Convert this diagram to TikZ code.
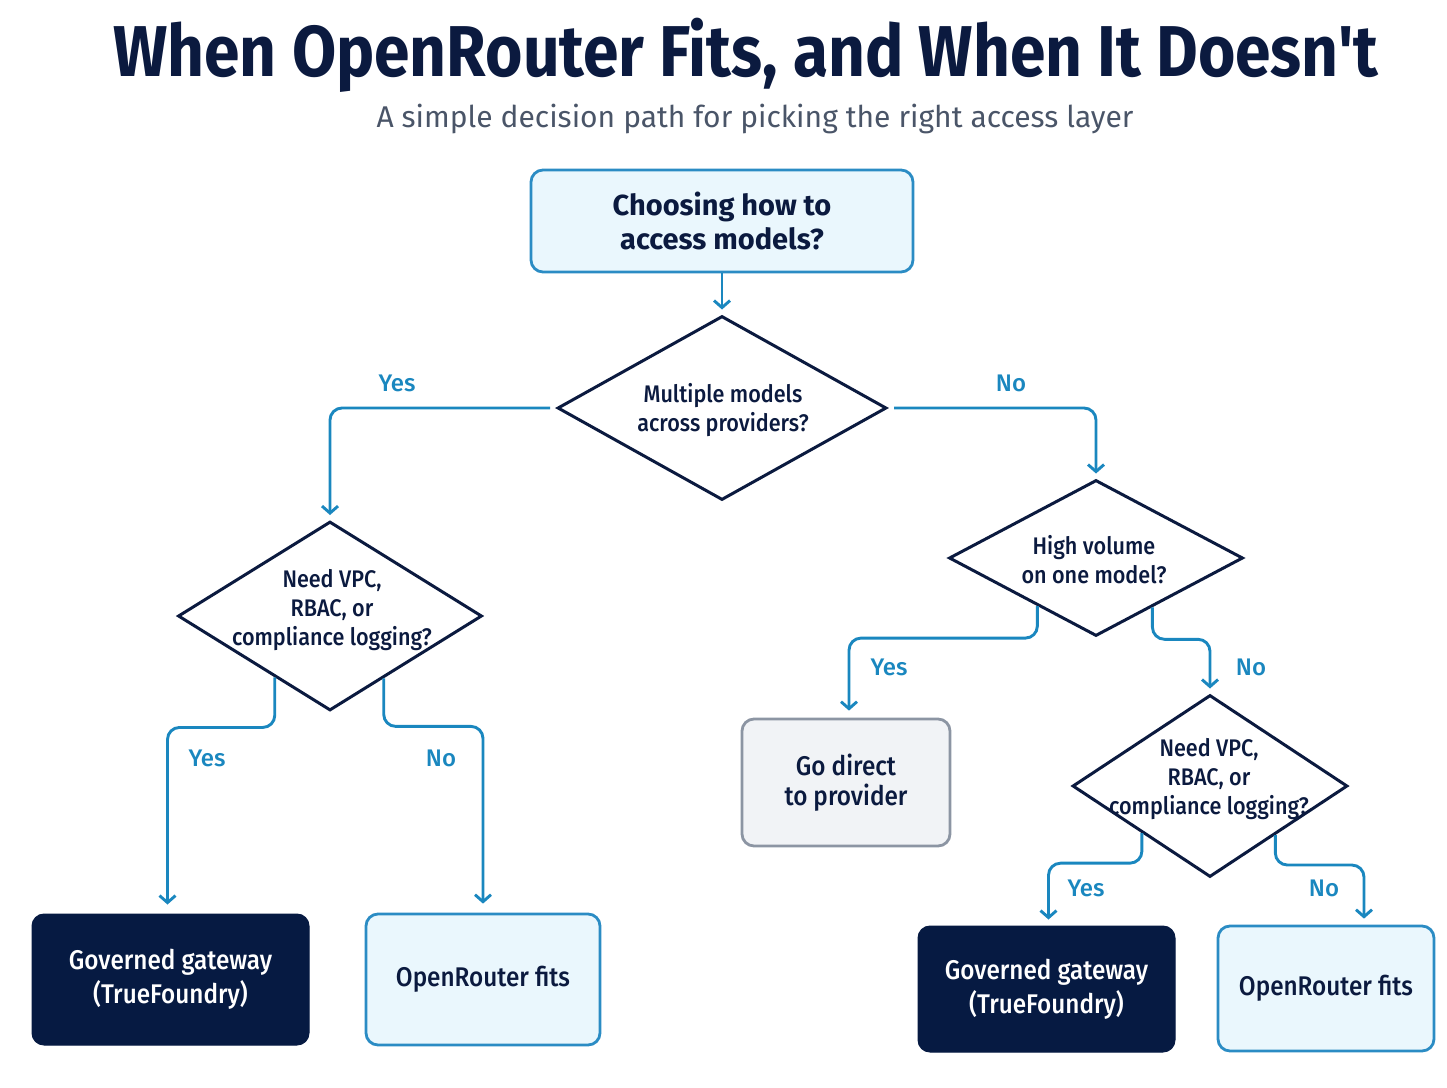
\documentclass[tikz,border=0pt]{standalone}
\usepackage{fontspec}
\setmainfont{Fira Sans}
\newfontfamily\medfont{Fira Sans Medium}
\newfontfamily\narrowfont{Fira Sans Medium}[FakeStretch=0.9]
\newfontfamily\titlefont{Fira Sans}[FakeStretch=0.89]
\usetikzlibrary{arrows.meta,shapes.geometric,calc}
\definecolor{Navy}{HTML}{0B1A3F}
\definecolor{DarkFill}{HTML}{061A42}
\definecolor{Flow}{HTML}{1A87BF}
\definecolor{StartFill}{HTML}{EAF7FD}
\definecolor{StartEdge}{HTML}{2B8CC4}
\definecolor{DirectFill}{HTML}{F1F3F6}
\definecolor{DirectEdge}{HTML}{8C95A3}
\definecolor{Subtle}{HTML}{4A5568}
\tikzset{
  start box/.style={draw=StartEdge, fill=StartFill, rounded corners=12pt, line width=2.8pt,
    align=center, text=Navy, font=\bfseries\fontsize{29}{34}\selectfont},
  fits box/.style={draw=StartEdge, fill=StartFill, rounded corners=12pt, line width=2.8pt,
    align=center, text=Navy, font=\narrowfont\fontsize{27}{34}\selectfont},
  gateway box/.style={draw=DarkFill, fill=DarkFill, rounded corners=12pt, line width=1pt,
    align=center, text=white, font=\narrowfont\fontsize{27}{34}\selectfont},
  direct box/.style={draw=DirectEdge, fill=DirectFill, rounded corners=12pt, line width=2.8pt,
    align=center, text=Navy, font=\narrowfont\fontsize{27}{30}\selectfont},
  decision/.style={diamond, draw=Navy, line width=3pt, inner sep=0pt},
  decision text/.style={align=center, text=Navy, inner sep=0pt,
    font=\narrowfont\fontsize{24}{29}\selectfont},
  answer/.style={text=Flow, inner sep=0pt, font=\medfont\fontsize{24}{28}\selectfont},
  flow/.style={-{Straight Barb[length=7pt,width=16pt]}, draw=Flow, line width=2.9pt,
    rounded corners=12pt},
}

\begin{document}
\begin{tikzpicture}[x=1pt,y=-1pt]
  \useasboundingbox (0,0) rectangle (1447,1087);

  % Heading block.
  \node[anchor=base, text=Navy, font=\titlefont\bfseries\fontsize{72}{80}\selectfont]
    (title) at (746,76) {When OpenRouter Fits, and When It Doesn't};
  \node[anchor=base, text=Subtle, font=\fontsize{30}{34}\selectfont]
    (subtitle) at (755,127) {A simple decision path for picking the right access layer};

  % Entry question and the first split.
  \node[start box, minimum width=382pt, minimum height=102pt] (start) at (722,221) {Choosing how to\\access models?};
  \node[decision, minimum width=329pt, minimum height=184pt] (multi) at (722,408) {};
  \node[decision text] (multi q) at (723,410) {Multiple models\\across providers?};

  % Left branch.
  \node[decision, minimum width=304pt, minimum height=189pt] (secureL) at (330,616) {};
  \node[decision text] (secureL q) at (332,610) {Need VPC,\\RBAC, or\\compliance logging?};
  \node[gateway box, minimum width=277pt, minimum height=131pt] (gatewayL) at (170.5,979.5) {Governed gateway\\(TrueFoundry)};
  \node[fits box, minimum width=234pt, minimum height=131pt] (fitsL) at (483,979.5) {OpenRouter fits};

  % Right branch.
  \node[decision, minimum width=294pt, minimum height=156pt] (volume) at (1096,558) {};
  \node[decision text] (volume q) at (1094,560) {High volume\\on one model?};
  \node[direct box, minimum width=208pt, minimum height=127pt] (direct) at (846,782.5) {Go direct\\to provider};
  \node[decision, minimum width=275pt, minimum height=182pt] (secureR) at (1210,786) {};
  \node[decision text] (secureR q) at (1209,779) {Need VPC,\\RBAC, or\\compliance logging?};
  \node[gateway box, minimum width=257pt, minimum height=126pt] (gatewayR) at (1046.5,989) {Governed gateway\\(TrueFoundry)};
  \node[fits box, minimum width=216pt, minimum height=125pt] (fitsR) at (1326,988.5) {OpenRouter fits};

  % Answer labels.
  \node[answer] (multi yes) at (397,383) {Yes};
  \node[answer] (multi no) at (1011,383) {No};
  \node[answer] (secureL yes) at (207,758) {Yes};
  \node[answer] (secureL no) at (441,758) {No};
  \node[answer] (volume yes) at (889,667) {Yes};
  \node[answer] (volume no) at (1251,667) {No};
  \node[answer] (secureR yes) at (1086,888) {Yes};
  \node[answer] (secureR no) at (1324,888) {No};

  % Connectors.
  \draw[flow, shorten >=5pt] (start.south) -- (multi.north);
  \draw[flow, shorten <=6pt, shorten >=5pt] (multi.west) -| (secureL.north);
  \draw[flow, shorten <=6pt, shorten >=5pt] (multi.east) -| (volume.north);

  \draw[flow, shorten >=9pt] ($(secureL.west)!0.64!(secureL.south)$) -- ++(0,50) -| ([xshift=-3pt]gatewayL.north);
  \draw[flow, shorten >=9pt] ($(secureL.east)!0.65!(secureL.south)$) -- ++(0,48) -| (fitsL.north);

  \draw[flow, shorten >=7pt] ($(volume.west)!0.605!(volume.south)$) -- ++(0,32) -| ([xshift=3pt]direct.north);
  \draw[flow, shorten >=5pt] ($(volume.east)!0.62!(volume.south)$) -- ++(0,32) -| (secureR.north);

  \draw[flow, shorten >=6pt] ($(secureR.west)!0.51!(secureR.south)$) -- ++(0,30) -| ([xshift=2pt]gatewayR.north);
  \draw[flow, shorten >=6pt] ($(secureR.east)!0.53!(secureR.south)$) -- ++(0,30) -| ([xshift=38pt]fitsR.north);
\end{tikzpicture}
\end{document}
